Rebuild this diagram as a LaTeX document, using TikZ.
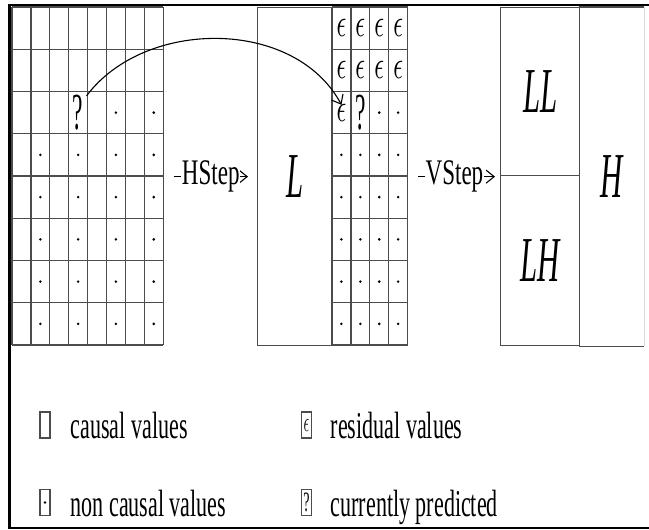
\documentclass[tikz,border=0pt]{standalone}
\usepackage{fontspec}
\setmainfont{Liberation Serif}
\DeclareFontShape{OML}{cmm}{m}{it}{<->cmmi10}{}
\usepackage{graphicx}
\usepackage{tikz}
\usetikzlibrary{arrows.meta,positioning}
\newcommand{\narrow}[2][0.58]{\scalebox{#1}[1]{#2}}
\newcommand{\cellW}{18.9}
\newcommand{\cellH}{42.25}

\begin{document}
\begin{tikzpicture}[
    x=1pt,y=-1pt,
    gridline/.style={draw=black!70,line width=1.3pt},
    epscell/.style={inner sep=0pt,font=\fontsize{40}{40}\selectfont},
    qcell/.style={inner sep=0pt,font=\fontsize{52}{52}\selectfont},
    band/.style={gridline,inner sep=0pt,anchor=north west},
    big/.style={font=\fontsize{64}{64}\selectfont\itshape},
    steplabel/.style={fill=white,inner sep=0.5pt,font=\fontsize{36}{36}\selectfont},
    legbox/.style={draw=black!70,line width=1.2pt,inner sep=0pt,minimum width=10pt,minimum height=26pt},
    legtext/.style={anchor=base west,inner sep=0pt,font=\fontsize{38}{38}\selectfont},
    arrow/.style={-{Straight Barb[length=8pt,width=13pt]},line width=1.1pt}
  ]
    \useasboundingbox (0,0) rectangle (649,530);
    \draw[line width=2.5pt] (649,5) -- (9.5,5) -- (9.5,528) -- (649,528);

    \node[band,draw=none,minimum width=151.2pt,minimum height=338pt] (src) at (12,7) {};
    \foreach \i in {0,...,8}
      \draw[gridline] ({12+\i*\cellW},7) -- ({12+\i*\cellW},345);
    \foreach \j in {0,...,8}
      \draw[gridline] (12,{7+\j*\cellH}) -- ({12+8*\cellW},{7+\j*\cellH});
    \foreach \r in {4,...,8}
      \foreach \c in {2,4,6,8}
        \fill ({12+(\c-0.5)*\cellW},{7+(\r-0.5)*\cellH}) circle (1.4);
    \foreach \c in {6,8}
      \fill ({12+(\c-0.5)*\cellW},{7+2.5*\cellH}) circle (1.4);
    \node[qcell] (qsrc) at ({12+3.5*\cellW},{7+2.5*\cellH}) {\narrow[0.45]{?}};

    \node[band,big,minimum width=75pt,minimum height=338pt] (lband) at (257,7) {\narrow[0.48]{L}};
    \node[band,draw=none,minimum width=75.6pt,minimum height=338pt] (dst) at (332,7) {};
    \foreach \i in {0,...,4}
      \draw[gridline] ({332+\i*\cellW},7) -- ({332+\i*\cellW},345);
    \foreach \j in {0,...,8}
      \draw[gridline] (332,{7+\j*\cellH}) -- ({332+4*\cellW},{7+\j*\cellH});
    \foreach \r in {1,2}
      \foreach \c in {1,...,4}
        \node[epscell] at ({332+(\c-0.5)*\cellW},{7+(\r-0.5)*\cellH}) {\narrow[0.6]{$\epsilon$}};
    \node[epscell] (eps) at ({332+0.5*\cellW},{7+2.5*\cellH}) {\narrow[0.6]{$\epsilon$}};
    \node[qcell] (qdst) at ({332+1.5*\cellW},{7+2.5*\cellH}) {\narrow[0.45]{?}};
    \foreach \c in {3,4}
      \fill ({332+(\c-0.5)*\cellW},{7+2.5*\cellH}) circle (1.4);
    \foreach \r in {4,...,8}
      \foreach \c in {1,...,4}
        \fill ({332+(\c-0.5)*\cellW},{7+(\r-0.5)*\cellH}) circle (1.4);

    \node[band,big,minimum width=79pt,minimum height=168pt] (llq) at (500,7) {\narrow[0.48]{LL}};
    \node[band,big,minimum width=79pt,minimum height=170pt] (lhq) at (500,175) {\narrow[0.48]{LH}};
    \node[band,big,draw=none,minimum width=64pt,minimum height=338pt] (hq) at (579,7) {\narrow[0.48]{H}};
    \draw[gridline] (hq.north west) -- (hq.north east);
    \draw[gridline] (hq.south west) -- (hq.south east);
    \draw[black!15,line width=0.8pt] (hq.north east) -- (hq.south east);

    \draw[arrow,shorten <=9pt,shorten >=9pt] (src) -- node[steplabel] {\narrow[0.64]{HStep}} (lband);
    \draw[arrow,shorten <=9.5pt,shorten >=5pt] (dst.east) -- node[steplabel] {\narrow[0.64]{VStep}} (dst.east -| llq.west);
    \draw[arrow] ([xshift=3pt,yshift=-1pt]qsrc.north east) .. controls (145,18) and (295,18) .. ([yshift=-1pt]eps.north);

    \node[legbox] (kcausal) at (45,425) {};
    \node[legtext] (tcausal) at ([xshift=20pt]kcausal.south east) {\narrow{causal values}};
    \node[legbox] (knon) at (45,502.5) {};
    \fill (knon) circle (1.4);
    \node[legtext] (tnon) at ([xshift=20pt]knon.south east) {\narrow{non causal values}};
    \node[legbox,font=\fontsize{28}{28}\selectfont] (kres) at (306.5,425) {\narrow[0.5]{$\epsilon$}};
    \node[legtext] (tres) at ([xshift=18.5pt]kres.south east) {\narrow{residual values}};
    \node[legbox,font=\fontsize{28}{28}\selectfont] (kpred) at (306.5,502.5) {\narrow[0.5]{?}};
    \node[legtext] (tpred) at ([xshift=18.5pt]kpred.south east) {\narrow{currently predicted}};
  \end{tikzpicture}
\end{document}
